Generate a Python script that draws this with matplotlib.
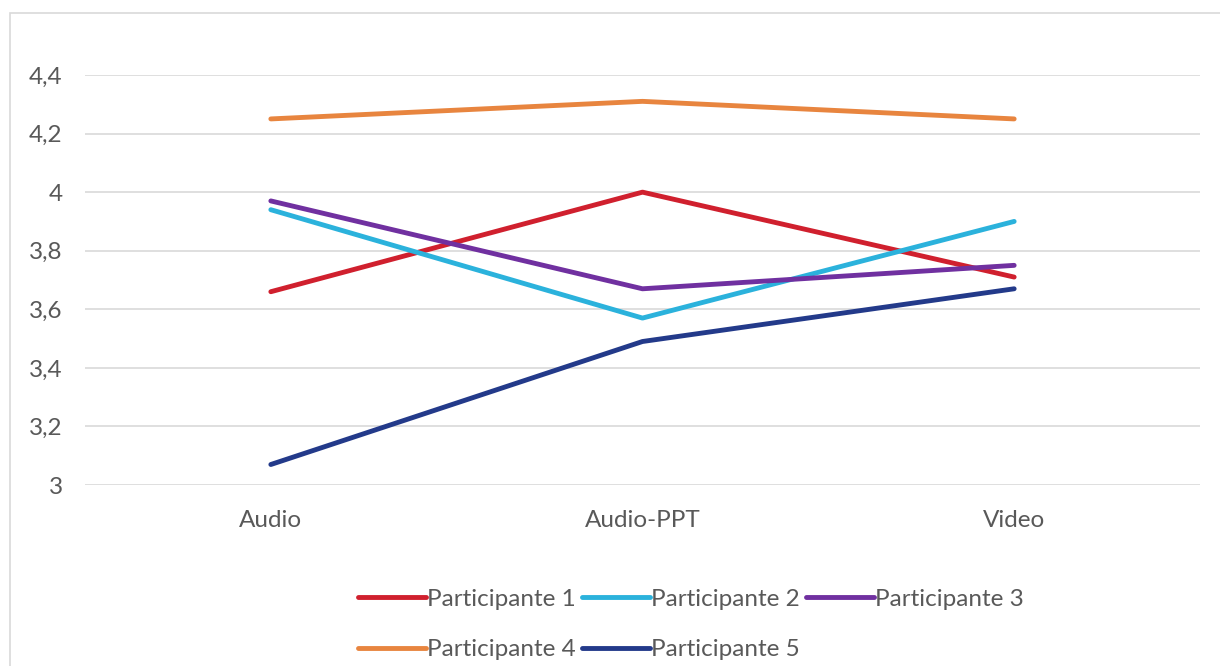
import matplotlib
matplotlib.use("Agg")
import matplotlib.pyplot as plt
from matplotlib.patches import Rectangle
from matplotlib.ticker import FuncFormatter

# categories and series (mean scores per participant)
categories = ["Audio", "Audio-PPT", "Video"]
participante_1 = [3.66, 4.00, 3.71]
participante_2 = [3.94, 3.57, 3.90]
participante_3 = [3.97, 3.67, 3.75]
participante_4 = [4.25, 4.31, 4.25]
participante_5 = [3.07, 3.49, 3.67]
series_names = ["Participante 1", "Participante 2", "Participante 3",
                "Participante 4", "Participante 5"]
y_ticks = [3.0, 3.2, 3.4, 3.6, 3.8, 4.0, 4.2, 4.4]

colors = ["#D0202E", "#2BB2DC", "#7030A0", "#E8853F", "#233A8A"]
text_grey = "#595959"
grid_grey = "#D9D9D9"

plt.rcParams['font.family'] = ['Lato', 'DejaVu Sans']

fig = plt.figure(figsize=(12.2, 6.66), dpi=100)
W, H = 1220, 666

# outer chart border (screenshot is cropped on right and bottom)
fig.patches.append(Rectangle((10 / W, -0.1), 1.2, 1 - 13 / H + 0.1,
                             transform=fig.transFigure, fill=False,
                             edgecolor=grid_grey, linewidth=1.2))

ax = fig.add_axes([85 / W, 1 - 485 / H, 1115 / W, 410 / H])

all_series = [participante_1, participante_2, participante_3,
              participante_4, participante_5]
x = list(range(len(categories)))
handles = []
for vals, name, c in zip(all_series, series_names, colors):
    h, = ax.plot(x, vals, color=c, lw=3.5, label=name, solid_capstyle='round')
    handles.append(h)

ax.set_xlim(-0.5, len(categories) - 0.5)
ax.set_ylim(3.0, 4.4)
ax.set_yticks(y_ticks)
ax.yaxis.set_major_formatter(FuncFormatter(
    lambda v, p: (f"{v:.1f}".rstrip("0").rstrip(".")).replace(".", ",")))
ax.set_xticks(x)
ax.set_xticklabels(categories)

ax.grid(axis='y', color=grid_grey, lw=1.2)
ax.set_axisbelow(True)
for s in ax.spines.values():
    s.set_visible(False)
ax.tick_params(axis='both', length=0, labelsize=17.5, labelcolor=text_grey)
ax.tick_params(axis='y', pad=16)
ax.tick_params(axis='x', pad=18)

# legend filled row by row: 1 2 3 / 4 5
order = [0, 3, 1, 4, 2]
leg = fig.legend([handles[i] for i in order], [series_names[i] for i in order],
                 loc='upper left', bbox_to_anchor=(336 / W, 1 - 567 / H),
                 ncol=3, frameon=False, fontsize=17.5, handlelength=2.8,
                 handletextpad=0.05, columnspacing=0.25, labelspacing=1.2)
for t in leg.get_texts():
    t.set_color(text_grey)

fig.savefig("out.png", dpi=100, facecolor="white")
